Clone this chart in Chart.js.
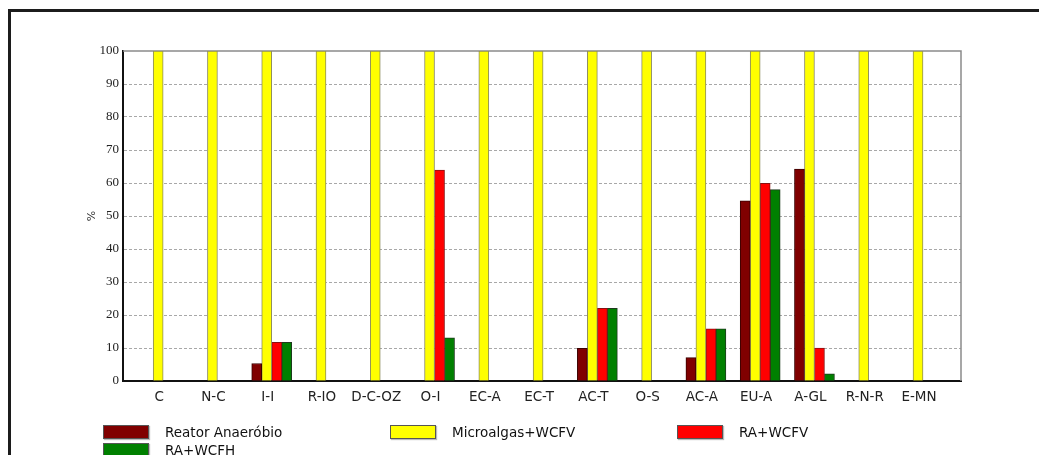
<!DOCTYPE html>
<html>
<head>
<meta charset="utf-8">
<script src="https://cdn.jsdelivr.net/npm/chart.js@4/dist/chart.umd.min.js"></script>
<style>
    html, body { margin: 0; padding: 0; background: #fff; }
    #wrap { position: relative; width: 1039px; height: 455px; overflow: hidden; }
    #frame {
        position: absolute; left: 8px; top: 9px; right: -10px; bottom: -10px;
        border-left: 3px solid #1c1c1c; border-top: 3px solid #1c1c1c;
    }
    #chart { position: absolute; left: 0; top: 0; }
    #legend {
        position: absolute; left: 103px; top: 425px;
        display: grid; grid-template-columns: 287px 287px 287px; row-gap: 4px;
        font-family: "DejaVu Sans", sans-serif; font-size: 13.5px; color: #111;
    }
    .item { display: flex; align-items: center; height: 14px; }
    .box { width: 44px; height: 12px; border: 1px solid #555; margin-right: 16px; box-shadow: 1px 1px 1px #bbb; }
</style>
</head>
<body>
<div id="wrap">
    <div id="frame"></div>
    <canvas id="chart" width="1039" height="455"></canvas>
    <div id="legend"></div>
</div>
<script>
const categories = ['C', 'N-C', 'I-I', 'R-IO', 'D-C-OZ', 'O-I', 'EC-A', 'EC-T', 'AC-T', 'O-S', 'AC-A', 'EU-A', 'A-GL', 'R-N-R', 'E-MN'];
const reatorAnaerobio = [0, 0, 5.3, 0, 0, 0, 0, 0, 9.9, 0, 7.1, 54.6, 64.2, 0, 0];
const microalgasWCFV = [100, 100, 100, 100, 100, 100, 100, 100, 100, 100, 100, 100, 100, 100, 100];
const raWCFV = [0, 0, 11.7, 0, 0, 63.9, 0, 0, 22.0, 0, 15.8, 59.9, 10.0, 0, 0];
const raWCFH = [0, 0, 11.7, 0, 0, 13.1, 0, 0, 22.0, 0, 15.8, 58.0, 2.2, 0, 0];
const yTicks = [0, 10, 20, 30, 40, 50, 60, 70, 80, 90, 100];

const toPoints = (arr) => arr.map((v, i) => ({ x: i, y: v }));

const frame = {
    id: 'frame',
    beforeDatasetsDraw(chart) {
        const { ctx, chartArea: a } = chart;
        ctx.save();
        ctx.strokeStyle = '#8a8a8a';
        ctx.lineWidth = 1.5;
        ctx.beginPath();
        ctx.moveTo(a.left, a.top);
        ctx.lineTo(a.right, a.top);
        ctx.lineTo(a.right, a.bottom);
        ctx.stroke();
        ctx.restore();
    }
};

const chart = new Chart(document.getElementById('chart'), {
    type: 'bar',
    data: {
        datasets: [
            {
                label: 'Reator Anaeróbio',
                data: toPoints(reatorAnaerobio),
                backgroundColor: '#800000',
                borderColor: '#3a0000',
                borderWidth: 1
            },
            {
                label: 'Microalgas+WCFV',
                data: toPoints(microalgasWCFV),
                backgroundColor: '#ffff00',
                borderColor: '#8c8c60',
                borderWidth: 1
            },
            {
                label: 'RA+WCFV',
                data: toPoints(raWCFV),
                backgroundColor: '#ff0000',
                borderColor: '#8a1010',
                borderWidth: 1
            },
            {
                label: 'RA+WCFH',
                data: toPoints(raWCFH),
                backgroundColor: '#008000',
                borderColor: '#1e3a1e',
                borderWidth: 1
            }
        ]
    },
    options: {
        responsive: false,
        animation: false,
        barThickness: 10,
        layout: {
            padding: { left: 82, top: 51, right: 78, bottom: 44 }
        },
        plugins: {
            legend: { display: false },
            tooltip: { enabled: false }
        },
        scales: {
            x: {
                type: 'linear',
                offset: false,
                min: -0.74,
                max: 14.7,
                grid: { display: false, drawTicks: false },
                border: { display: true, color: '#111', width: 2 },
                ticks: {
                    stepSize: 1,
                    includeBounds: false,
                    maxTicksLimit: 30,
                    autoSkip: false,
                    maxRotation: 0,
                    padding: 8,
                    labelOffset: -4,
                    color: '#222',
                    font: { family: 'DejaVu Sans', size: 13.5 },
                    callback: (v) => Number.isInteger(v) && categories[v] !== undefined ? categories[v] : ''
                },
                afterFit: (s) => { s.height = 30; }
            },
            y: {
                min: 0,
                max: 100,
                afterBuildTicks: (s) => { s.ticks = yTicks.map(v => ({ value: v })); },
                grid: {
                    drawTicks: false,
                    lineWidth: 1,
                    color: (c) => (c.tick && (c.tick.value === 0 || c.tick.value === 100)) ? 'rgba(0,0,0,0)' : '#a8a8a8'
                },
                border: { display: true, color: '#111', width: 2, dash: [3, 2] },
                ticks: {
                    padding: 4,
                    color: '#222',
                    font: { family: 'Liberation Serif', size: 13 }
                },
                title: {
                    display: true,
                    text: '%',
                    color: '#333',
                    padding: { top: 4, bottom: 0 },
                    font: { family: 'DejaVu Sans', size: 11 }
                },
                afterFit: (s) => { s.width = 41; }
            }
        }
    },
    plugins: [frame]
});

const legendEl = document.getElementById('legend');
chart.data.datasets.forEach((ds) => {
    const item = document.createElement('div');
    item.className = 'item';
    const box = document.createElement('span');
    box.className = 'box';
    box.style.background = ds.backgroundColor;
    const txt = document.createElement('span');
    txt.textContent = ds.label;
    item.appendChild(box);
    item.appendChild(txt);
    legendEl.appendChild(item);
});
</script>
</body>
</html>
